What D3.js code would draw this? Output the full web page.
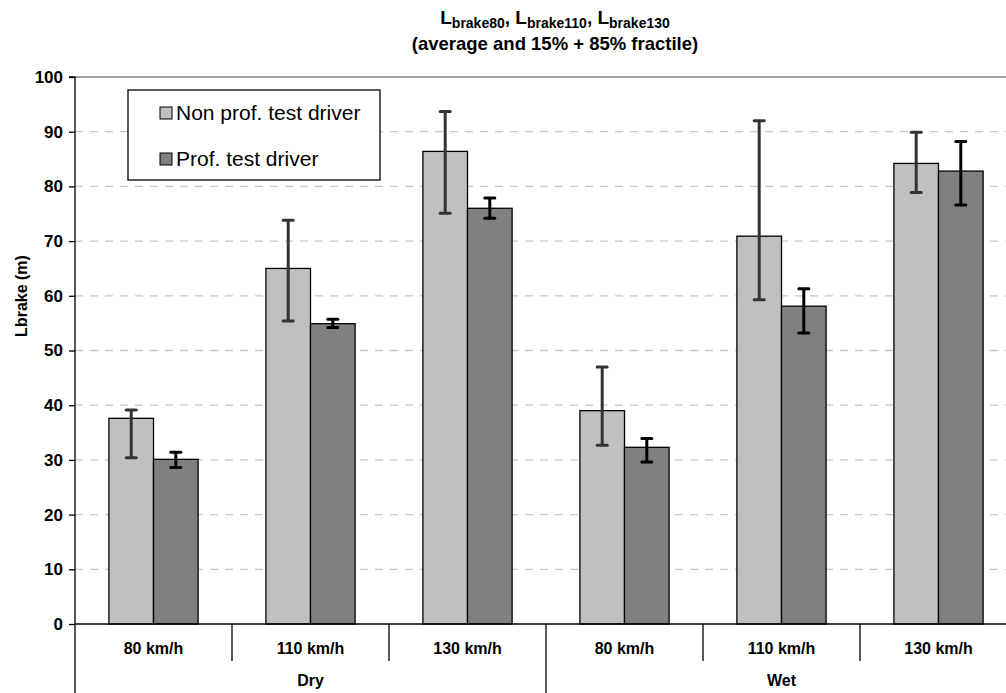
<!DOCTYPE html>
<html><head><meta charset="utf-8">
<script src="https://cdn.jsdelivr.net/npm/d3@7"></script>
<style>body{margin:0;background:#fff;} svg{display:block;font-family:"Liberation Sans",Arial,sans-serif;}</style>
</head><body>
<svg id="c" width="1006" height="693"></svg>
<script>
const groups = ["Dry", "Wet"];
const speeds = ["80 km/h", "110 km/h", "130 km/h"];
const seriesNames = ["Non prof. test driver", "Prof. test driver"];
const seriesColors = ["#C0C0C0", "#808080"];
const errColors = ["#333333", "#000000"];
// order: Dry 80,110,130, Wet 80,110,130
const nonProfAvg = [37.6, 65.0, 86.4, 39.0, 70.9, 84.2];
const nonProfLow = [30.4, 55.4, 75.1, 32.7, 59.3, 78.9];
const nonProfHigh = [39.1, 73.8, 93.7, 47.0, 92.0, 89.9];
const profAvg = [30.1, 54.9, 76.0, 32.3, 58.1, 82.8];
const profLow = [28.6, 54.2, 74.2, 29.6, 53.2, 76.6];
const profHigh = [31.4, 55.7, 77.9, 33.9, 61.3, 88.2];
const yTicks = [0,10,20,30,40,50,60,70,80,90,100];

const svg = d3.select("#c");
const pLeft = 75, pRight = 1017, pTop = 77, pBottom = 624;
const cats = [];
groups.forEach(g => speeds.forEach(s => cats.push(g + "|" + s)));

const x = d3.scaleBand().domain(cats).range([pLeft, pRight]).paddingInner(0).paddingOuter(0);
const y = d3.scaleLinear().domain([0, 100]).range([pBottom, pTop]);
const xs = d3.scaleBand().domain([0, 1]).range([0, x.bandwidth()]).paddingInner(0).paddingOuter(0.76);

// gridlines
svg.append("g").selectAll("line").data(yTicks.filter(t => t > 0 && t < 100)).join("line")
  .attr("x1", pLeft).attr("x2", pRight).attr("y1", d => y(d)).attr("y2", d => y(d))
  .attr("stroke", "#C8C8C8").attr("stroke-width", 1.3).attr("stroke-dasharray", "8,7");
// top border
svg.append("line").attr("x1", pLeft).attr("x2", pRight).attr("y1", y(100)).attr("y2", y(100))
  .attr("stroke", "#808080").attr("stroke-width", 1.3);

const series = [
  {avg: nonProfAvg, lo: nonProfLow, hi: nonProfHigh},
  {avg: profAvg, lo: profLow, hi: profHigh}
];

series.forEach((s, si) => {
  const g = svg.append("g");
  g.selectAll("rect").data(cats).join("rect")
    .attr("x", (c) => x(c) + xs(si))
    .attr("width", xs.bandwidth())
    .attr("y", (c, i) => y(s.avg[i]))
    .attr("height", (c, i) => y(0) - y(s.avg[i]))
    .attr("fill", seriesColors[si]).attr("stroke", "#000").attr("stroke-width", 1.3);
});
series.forEach((s, si) => {
  const g = svg.append("g").attr("stroke", errColors[si]).attr("stroke-width", 3);
  cats.forEach((c, i) => {
    const cx = x(c) + xs(si) + xs.bandwidth() / 2;
    g.append("line").attr("x1", cx).attr("x2", cx).attr("y1", y(s.lo[i])).attr("y2", y(s.hi[i]));
    g.append("line").attr("x1", cx - 5).attr("x2", cx + 5).attr("y1", y(s.lo[i])).attr("y2", y(s.lo[i])).attr("stroke-linecap","round");
    g.append("line").attr("x1", cx - 5).attr("x2", cx + 5).attr("y1", y(s.hi[i])).attr("y2", y(s.hi[i])).attr("stroke-linecap","round");
  });
});

// y axis
const yAxis = svg.append("g").attr("transform", `translate(${pLeft},0)`)
  .call(d3.axisLeft(y).tickValues(yTicks).tickSize(6).tickPadding(6));
yAxis.select(".domain").attr("stroke", "#000").attr("stroke-width", 1.3).attr("d", `M-6,${pTop}H0V${693}`);
yAxis.selectAll(".tick line").attr("stroke", "#000").attr("stroke-width", 1.3);
yAxis.selectAll(".tick text").attr("font-size", 17).attr("font-weight", "bold").attr("fill", "#000")
  .attr("font-family", "Liberation Sans, Arial, sans-serif");

// x axis baseline
svg.append("line").attr("x1", pLeft).attr("x2", pRight).attr("y1", pBottom).attr("y2", pBottom)
  .attr("stroke", "#000").attr("stroke-width", 1.3);
// category dividers
cats.forEach((c, i) => {
  if (i === 0) return;
  const xx = x(c);
  svg.append("line").attr("x1", xx).attr("x2", xx).attr("y1", pBottom)
    .attr("y2", i === 3 ? 693 : 661).attr("stroke", "#000").attr("stroke-width", 1.3);
});
svg.append("g").selectAll("text").data(cats).join("text")
  .attr("x", c => x(c) + x.bandwidth() / 2).attr("y", 654)
  .attr("text-anchor", "middle").attr("font-size", 16).attr("font-weight", "bold")
  .text(c => c.split("|")[1]);
svg.append("g").selectAll("text").data(groups).join("text")
  .attr("x", (g) => (x(g + "|" + speeds[0]) + x(g + "|" + speeds[2]) + x.bandwidth()) / 2)
  .attr("y", 686).attr("text-anchor", "middle").attr("font-size", 16).attr("font-weight", "bold")
  .text(g => g);

// y label
svg.append("text").attr("transform", `translate(27,296) rotate(-90)`)
  .attr("text-anchor", "middle").attr("font-size", 16).attr("font-weight", "bold").text("Lbrake (m)");

// title
const t1 = svg.append("text").attr("x", 555).attr("y", 24).attr("text-anchor", "middle")
  .attr("font-size", 19).attr("font-weight", "bold");
const subs = ["brake80", "brake110", "brake130"];
subs.forEach((s, i) => {
  t1.append("tspan").attr("dy", i === 0 ? 0 : -4).text((i === 0 ? "" : ", ") + "L");
  t1.append("tspan").attr("font-size", 14).attr("dy", 4).text(s);
});
svg.append("text").attr("x", 555).attr("y", 50).attr("text-anchor", "middle")
  .attr("font-size", 18.5).attr("font-weight", "bold").text("(average and 15% + 85% fractile)");

// legend
const lg = svg.append("g");
lg.append("rect").attr("x", 128).attr("y", 90).attr("width", 252).attr("height", 90)
  .attr("fill", "#fff").attr("stroke", "#000").attr("stroke-width", 1.3);
seriesNames.forEach((n, i) => {
  const yy = 120 + i * 46;
  lg.append("rect").attr("x", 160).attr("y", yy - 13).attr("width", 12).attr("height", 12)
    .attr("fill", seriesColors[i]).attr("stroke", "#000").attr("stroke-width", 1);
  lg.append("text").attr("x", 176).attr("y", yy).attr("font-size", 21).text(n);
});
</script>
</body></html>
